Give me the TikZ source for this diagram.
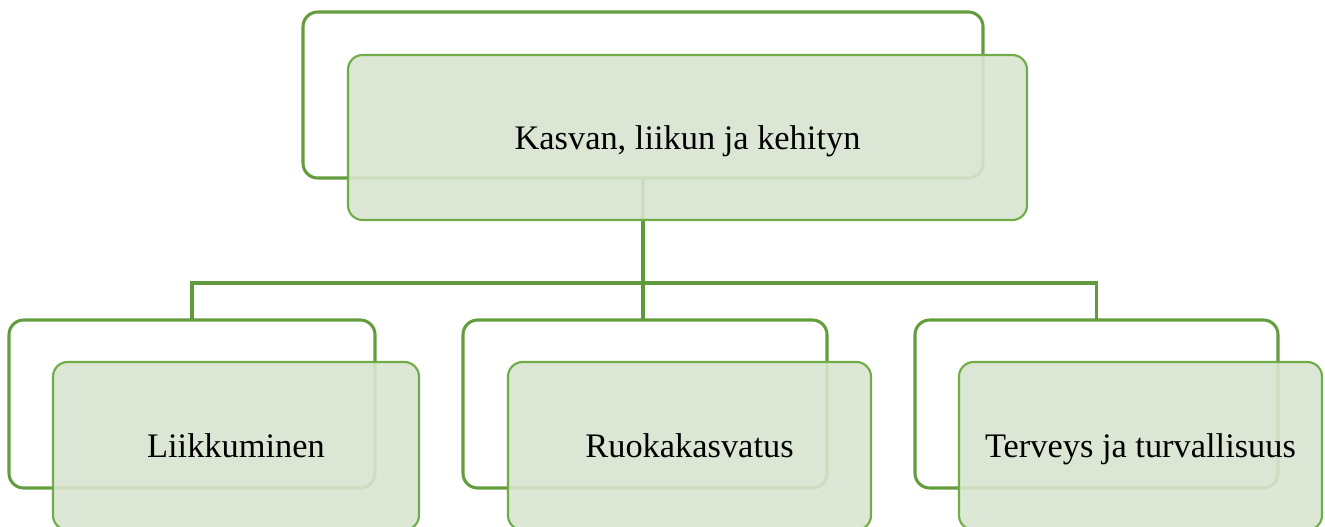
\documentclass[tikz,border=0pt]{standalone}
\usepackage{fontspec}
\setmainfont{Liberation Serif}
\definecolor{backline}{RGB}{99,157,62}
\definecolor{frontline}{RGB}{112,173,71}
\definecolor{frontfill}{RGB}{216,229,208}
\definecolor{connline}{RGB}{96,154,60}
\newcommand{\boxtext}[1]{\raisebox{-8.7pt}[0pt][0pt]{#1}}
\begin{document}
\begin{tikzpicture}[x=0.75pt,y=-0.75pt,
  backbox/.style={draw=backline,line width=2.3pt,fill=white,rounded corners=11pt,inner sep=0pt,outer sep=0pt},
  frontbox/.style={draw=frontline,line width=1.6pt,fill=frontfill,fill opacity=0.9,text opacity=1,rounded corners=11pt,inner sep=0pt,outer sep=0pt,font=\fontsize{25.8pt}{30pt}\selectfont,text=black},
  conn/.style={draw=connline,line width=2.6pt}]
\useasboundingbox (0,0) rectangle (1325,527);
\clip (0,0) rectangle (1325,527);
% back boxes
\node[backbox,minimum width=510pt,minimum height=124.5pt] (tb) at (643,95) {};
\node[backbox,minimum width=274.5pt,minimum height=126pt] (b1) at (192,404) {};
\node[backbox,minimum width=273pt,minimum height=126pt] (b2) at (645,404) {};
\node[backbox,minimum width=272.25pt,minimum height=126pt] (b3) at (1096.5,404) {};
% connectors
\coordinate (hub) at (643,283);
\draw[conn] (tb.south) -- (hub);
\draw[conn] (b1.north) |- (hub) -| (b3.north);
\draw[conn] (hub) -- (hub |- b2.north);
% front boxes
\node[frontbox,minimum width=509.25pt,minimum height=123.75pt] (tf) at (687.5,137.5) {\boxtext{Kasvan, liikun ja kehityn}};
\node[frontbox,minimum width=274.5pt,minimum height=126pt] (f1) at (236,446) {\boxtext{Liikkuminen}};
\node[frontbox,minimum width=272.25pt,minimum height=126pt] (f2) at (689.5,446) {\boxtext{Ruokakasvatus}};
\node[frontbox,minimum width=272.25pt,minimum height=126pt] (f3) at (1140.5,446) {\boxtext{Terveys ja turvallisuus}};
\end{tikzpicture}
\end{document}
